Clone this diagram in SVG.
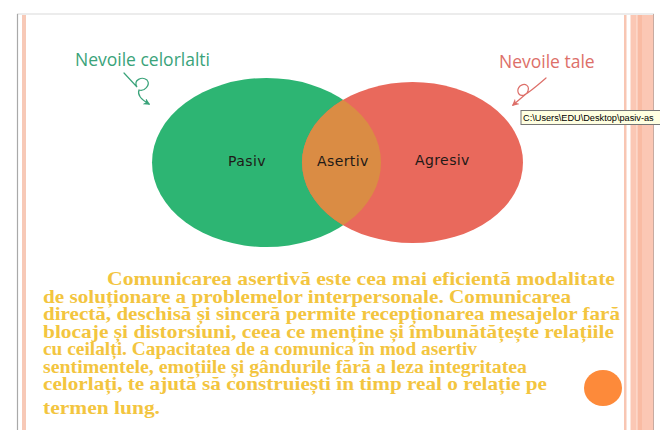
<svg xmlns="http://www.w3.org/2000/svg" width="660" height="430" viewBox="0 0 660 430">
<style>
.lbl{font-family:"Open Sans","Liberation Sans",sans-serif;font-size:17.5px}
.in{font-family:"DejaVu Sans","Liberation Sans",sans-serif;font-size:14px;fill:#1f1a17;letter-spacing:0.4px}
.body{font-family:"Liberation Serif","Times New Roman",serif;font-weight:bold;font-size:19px;fill:#f3c53f}
.cur{fill:none;stroke-width:1.2;stroke-linecap:round}
</style>
<defs>
<marker id="ag" viewBox="0 0 10 10" refX="8" refY="5" markerWidth="7" markerHeight="7" orient="auto" markerUnits="userSpaceOnUse"><path d="M0,0 L10,5 L0,10 L3,5 Z" fill="#3aa37a"/></marker>
<marker id="ar" viewBox="0 0 10 10" refX="8" refY="5" markerWidth="7" markerHeight="7" orient="auto" markerUnits="userSpaceOnUse"><path d="M0,0 L10,5 L0,10 L3,5 Z" fill="#dd6f69"/></marker>
<clipPath id="gc"><ellipse cx="266.5" cy="162.5" rx="114.5" ry="84.5"/></clipPath>
</defs>
<rect width="660" height="430" fill="#ffffff"/>
<g id="frame">
<line x1="17" y1="14" x2="654" y2="14" stroke="#e6e6e6" stroke-width="1.5"/>
<line x1="17.5" y1="14" x2="17.5" y2="430" stroke="#a9a9a9" stroke-width="1.2"/>
<rect x="22" y="15" width="4" height="415" fill="#f7c9b7"/>
<rect x="624" y="15" width="2.5" height="415" fill="#f8c6b3"/>
<rect x="630.5" y="15" width="23" height="415" fill="#fbc7b4"/>
<rect x="636" y="15" width="1.5" height="415" fill="#fcd6c7"/>
<rect x="638" y="15" width="4" height="415" fill="#f9bba3"/>
<line x1="653.5" y1="14" x2="653.5" y2="430" stroke="#c8aaa0" stroke-width="1"/>
</g>
<g id="node-pasiv">
<ellipse cx="266.5" cy="162.5" rx="114.5" ry="84.5" fill="#2db573"/>
<text class="in" x="228" y="166">Pasiv</text>
</g>
<g id="node-agresiv">
<ellipse cx="412.5" cy="162.5" rx="110.5" ry="80.5" fill="#e9695c"/>
<text class="in" x="415" y="165">Agresiv</text>
</g>
<g id="node-asertiv">
<ellipse cx="412.5" cy="162.5" rx="110.5" ry="80.5" fill="#da8c44" clip-path="url(#gc)"/>
<text class="in" x="317" y="166">Asertiv</text>
</g>
<g id="label-celorlalti">
<text class="lbl" x="75" y="66" fill="#3aa37a">Nevoile celorlalti</text>
</g>
<g id="label-tale">
<text class="lbl" x="499" y="68" fill="#dd6f69">Nevoile tale</text>
</g>
<g id="connectors">
<path class="cur" stroke="#3aa37a" marker-end="url(#ag)" d="M124,73 L137,87 C133,80 142,76 147,80 C151,85 144,92 139,90 C137,95 142,100 149,104"/>
<path class="cur" stroke="#dd6f69" marker-end="url(#ar)" d="M546,78 C538,85 530,92 524,95 C518,97 516,90 520,86 C525,82 531,86 527,93 L513,105"/>
</g>
<g id="tooltip">
<rect x="521" y="110.5" width="145" height="14" fill="#ffffe1" stroke="#767676" stroke-width="1"/>
<text x="523" y="121" font-family="Liberation Sans,Arial,sans-serif" font-size="9.2px" fill="#000">C:\Users\EDU\Desktop\pasiv-as</text>
</g>
<g id="body">
<text class="body" x="107" y="285" textLength="508" lengthAdjust="spacingAndGlyphs">Comunicarea asertivă este cea mai eficientă modalitate</text>
<text class="body" x="43" y="302.5" textLength="528" lengthAdjust="spacingAndGlyphs">de soluționare a problemelor interpersonale. Comunicarea</text>
<text class="body" x="43" y="320" textLength="577" lengthAdjust="spacingAndGlyphs">directă, deschisă și sinceră permite recepționarea mesajelor fară</text>
<text class="body" x="43" y="337.5" textLength="571" lengthAdjust="spacingAndGlyphs">blocaje și distorsiuni, ceea ce menține și îmbunătățește relațiile</text>
<text class="body" x="43" y="355" textLength="434" lengthAdjust="spacingAndGlyphs">cu ceilalți. Capacitatea de a comunica în mod asertiv</text>
<text class="body" x="43" y="372.5" textLength="484" lengthAdjust="spacingAndGlyphs">sentimentele, emoțiile și gândurile fără a leza integritatea</text>
<text class="body" x="43" y="390" textLength="504" lengthAdjust="spacingAndGlyphs">celorlați, te ajută să construiești în timp real o relație pe</text>
<text class="body" x="43" y="414" textLength="117" lengthAdjust="spacingAndGlyphs">termen lung.</text>
</g>
<ellipse id="dot" cx="603" cy="388" rx="19" ry="18" fill="#fd8a3a"/>
</svg>
